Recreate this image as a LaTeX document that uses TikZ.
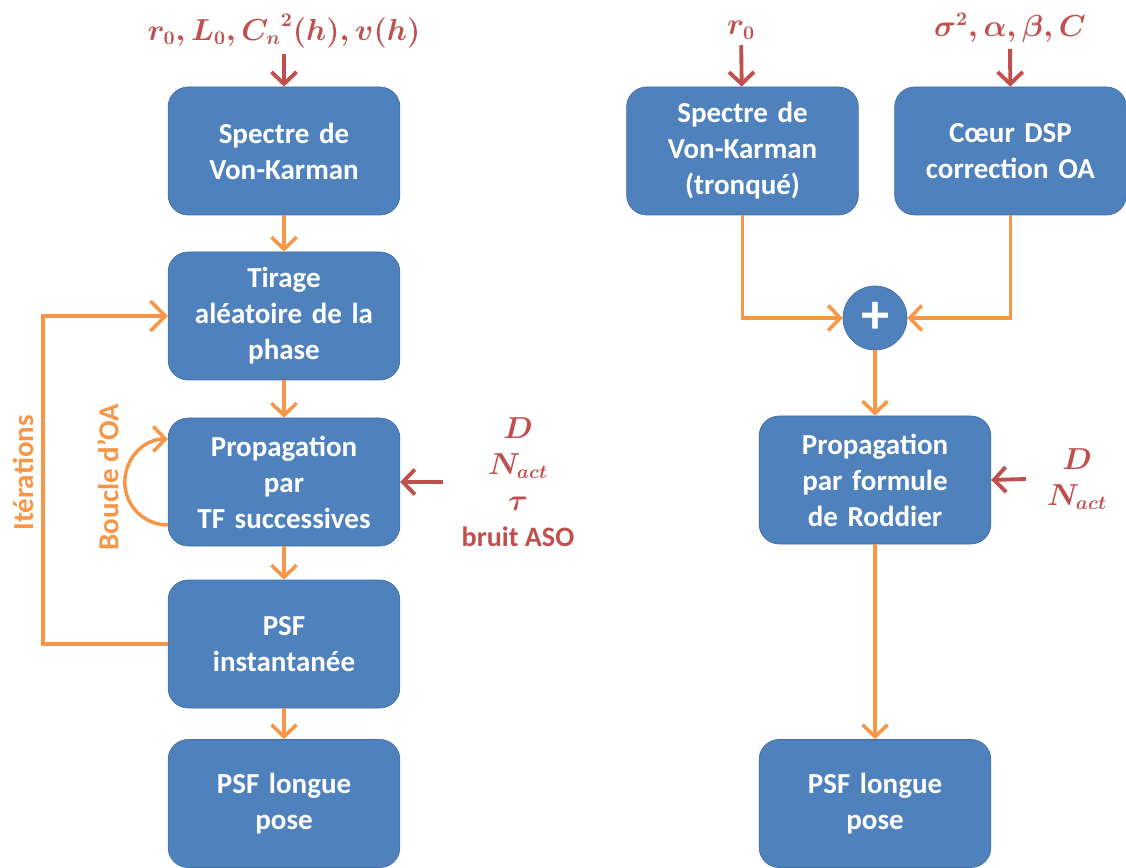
\documentclass[tikz,border=0pt]{standalone}
\usepackage[no-math]{fontspec}
\setmainfont{Carlito}
\usetikzlibrary{arrows.meta}
\definecolor{boxblue}{HTML}{4F81BD}
\definecolor{flowor}{HTML}{F79646}
\definecolor{paramred}{HTML}{C0504D}
\tikzset{
  bloc/.style={
    rectangle, rounded corners=0.4cm, minimum width=4.56cm, minimum height=2.56cm,
    text width=4.4cm, align=center, draw=boxblue!85!black, fill=boxblue,
    text=white, font=\bfseries\fontsize{16.5}{20.5}\selectfont
  },
  somme/.style={
    circle, minimum size=1.28cm, inner sep=0pt, draw=boxblue!85!black, fill=boxblue,
    text=white, font=\bfseries\fontsize{32}{32}\selectfont
  },
  param/.style={
    align=center, text=paramred, font=\bfseries\fontsize{16}{20.5}\selectfont\mathversion{bold}
  },
  legende/.style={
    text=flowor, font=\bfseries\fontsize{16.5}{20}\selectfont
  },
  flux/.style={
    -{Straight Barb[length=2.4mm, width=5mm]}, line width=2pt, color=flowor
  },
  entree/.style={
    -{Straight Barb[length=2.4mm, width=5mm]}, line width=2.2pt, color=paramred
  }
}
\begin{document}
\begin{tikzpicture}
  \useasboundingbox (0,0) rectangle (22.52,-17.36);

  % Left chain: simulation step by step
  \node[bloc] (vk1) at (5.68,-3.02) {Spectre de\\Von-Karman};
  \node[bloc] (tirage) at (5.68,-6.32) {Tirage\\aléatoire de la\\phase};
  \node[bloc] (prop1) at (5.68,-9.64) {Propagation\\par\\TF successives};
  \node[bloc] (psfi) at (5.68,-12.88) {PSF\\instantanée};
  \node[bloc] (psf1) at (5.68,-16.07) {PSF longue\\pose};

  % Right chain: analytic model
  \node[bloc] (vk2) at (14.85,-3.02) {Spectre de\\Von-Karman\\(tronqué)};
  \node[bloc] (dsp) at (20.21,-3.02) {Cœur DSP\\correction OA};
  \node[somme] (plus) at (17.5,-6.36) {+};
  \node[bloc] (prop2) at (17.5,-9.6) {Propagation\\par formule\\de Roddier};
  \node[bloc] (psf2) at (17.5,-16.07) {PSF longue\\pose};

  % Input parameters
  \node[param] (p1) at (5.68,-0.62) {$r_0, L_0, {C_n}^2(h), v(h)$};
  \node[param] (p2) at (14.82,-0.6) {$r_0$};
  \node[param] (p3) at (20.2,-0.56) {$\sigma^2, \alpha, \beta, C$};
  \node[param] (p4) at (10.36,-9.64) {$D$\\$N_{act}$\\$\tau$\\bruit ASO};
  \node[param] (p5) at (21.54,-9.58) {$D$\\$N_{act}$};

  \draw[entree] (p1) -- (vk1);
  \draw[entree] (p2) -- (vk2);
  \draw[entree] (p3) -- (dsp);
  \draw[entree] (p4.west) ++(-0.26,0) -- (prop1.east);
  \draw[entree] (p5.west) ++(-0.3,0) -- (prop2.east);

  % Flows
  \draw[flux] (vk1) -- (tirage);
  \draw[flux] (tirage) -- (prop1);
  \draw[flux] (prop1) -- (psfi);
  \draw[flux] (psfi) -- (psf1);
  \draw[flux] (vk2.south) |- (plus.west);
  \draw[flux] (dsp.south) |- (plus.east);
  \draw[flux] (plus) -- (prop2);
  \draw[flux] (prop2) -- (psf2);

  % Loops
  \draw[flux, -{Straight Barb[length=3mm, width=6mm]}] (psfi.west) -- ++(-2.5,0) |- (tirage.west);
  \draw[flux] ([yshift=-0.86cm]prop1.west) arc[start angle=270, end angle=90, radius=0.86cm];
  \node[legende, rotate=90] (iter) at (0.46,-9.46) {Itérations};
  \node[legende, rotate=90] (boucle) at (2.16,-9.54) {Boucle d’OA};
\end{tikzpicture}
\end{document}
